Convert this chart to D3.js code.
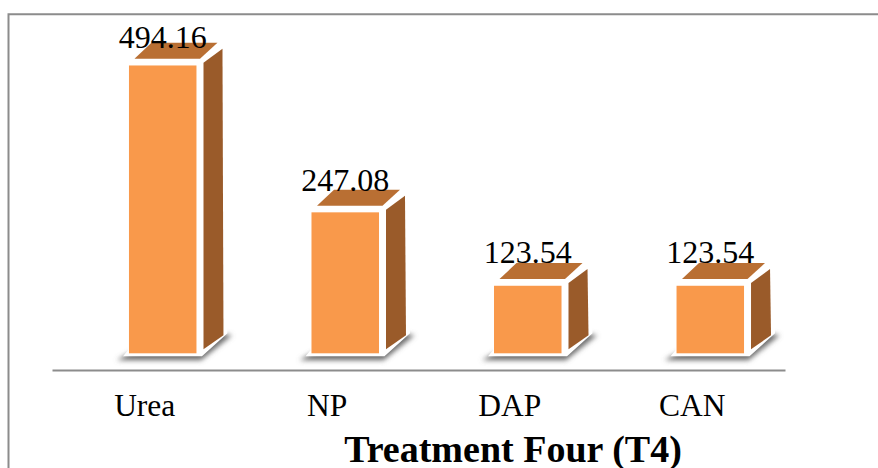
<!DOCTYPE html>
<html>
<head>
<meta charset="utf-8">
<script src="https://cdn.jsdelivr.net/npm/d3@7"></script>
<style>
html, body { margin: 0; padding: 0; background: #fff; overflow: hidden; }
svg { display: block; font-family: "Liberation Serif", serif; }
</style>
</head>
<body>
<svg id="chart" width="878" height="468"></svg>
<script>
const categories = ["Urea", "NP", "DAP", "CAN"];
const values = [494.16, 247.08, 123.54, 123.54];
const chartTitle = "Treatment Four (T4)";

const svg = d3.select("#chart");

// Soft shadow under each column's floor
const defs = svg.append("defs");
defs.append("filter").attr("id", "soft")
  .attr("x", "-30%").attr("y", "-30%").attr("width", "160%").attr("height", "160%")
  .append("feGaussianBlur").attr("stdDeviation", 2.5);

// Outer frame: top and left edges only
svg.append("path")
  .attr("d", "M8.5,468V14.3H878")
  .attr("fill", "none").attr("stroke", "#8c8c8c").attr("stroke-width", 2);

const x = d3.scaleBand().domain(categories).range([52, 785]).paddingOuter(0.008);
const y = d3.scaleLinear().domain([0, 500]).range([359.2, 62]);
// Labels float a little closer to the taller columns
const labelY = d3.scaleLinear().domain([values[2], values[0]]).range([263, 48]);

// The column floor sits slightly above the zero line because of the 3D projection
const floorY = 353.3;
const frontW = 67.5;
const columnShift = 18;
const frontLeft = c => x(c) + x.bandwidth() / 2 + columnShift - frontW / 2;
const poly = pts => "M" + pts.map(p => p.join(",")).join("L") + "Z";

const bars = svg.append("g").selectAll("g")
  .data(categories.map((c, i) => ({ c, v: values[i] })))
  .join("g");

// Shadow, then white rim, then the three shaded faces
bars.append("path")
  .attr("filter", "url(#soft)")
  .attr("fill", "#6e6e6e")
  .attr("d", d => {
    const l = frontLeft(d.c);
    return poly([[l - 12, floorY + 7], [l + 72, floorY + 7],
                 [l + 103, floorY - 18], [l + 90, floorY - 20], [l, floorY]]);
  });

bars.append("path")
  .attr("fill", "#fff")
  .attr("d", d => {
    const l = frontLeft(d.c), t = y(d.v);
    return poly([[l - 1, t - 1], [l + 20, t - 24], [l + 98, t - 24],
                 [l + 98.5, floorY - 20], [l + 73, floorY + 3], [l - 6, floorY + 3], [l - 1, floorY - 3]]);
  });

bars.append("path")
  .attr("fill", "#b96f33")
  .attr("d", d => {
    const l = frontLeft(d.c), t = y(d.v);
    return poly([[l + 5.5, t - 6.7], [l + 22.5, t - 22.7], [l + 88.5, t - 22.7], [l + 71, t - 6.7]]);
  });

bars.append("path")
  .attr("fill", "#9a5b2a")
  .attr("d", d => {
    const l = frontLeft(d.c), t = y(d.v);
    return poly([[l + 74.5, t - 2.7], [l + 93.5, t - 16.7], [l + 94.5, floorY - 18], [l + 74.5, floorY - 4]]);
  });

bars.append("rect")
  .attr("fill", "#f9994b")
  .attr("x", d => frontLeft(d.c))
  .attr("y", d => y(d.v))
  .attr("width", frontW)
  .attr("height", d => floorY - y(d.v));

// Value labels above each column
bars.append("text")
  .attr("x", d => x(d.c) + x.bandwidth() / 2 + columnShift)
  .attr("y", d => labelY(d.v))
  .attr("text-anchor", "middle")
  .attr("font-size", 32)
  .attr("fill", "#000")
  .text(d => d.v.toFixed(2));

// Category axis
const axis = svg.append("g")
  .attr("transform", "translate(0,370)")
  .call(d3.axisBottom(x).tickSize(0).tickPadding(24));
axis.select(".domain").attr("stroke", "#8c8c8c").attr("stroke-width", 2);
axis.selectAll("text")
  .attr("font-family", "Liberation Serif, serif")
  .attr("font-size", 31.5)
  .attr("fill", "#000");

svg.append("text")
  .attr("x", 513).attr("y", 461.5)
  .attr("text-anchor", "middle")
  .attr("font-size", 38)
  .attr("font-weight", "bold")
  .attr("fill", "#000")
  .text(chartTitle);
</script>
</body>
</html>
